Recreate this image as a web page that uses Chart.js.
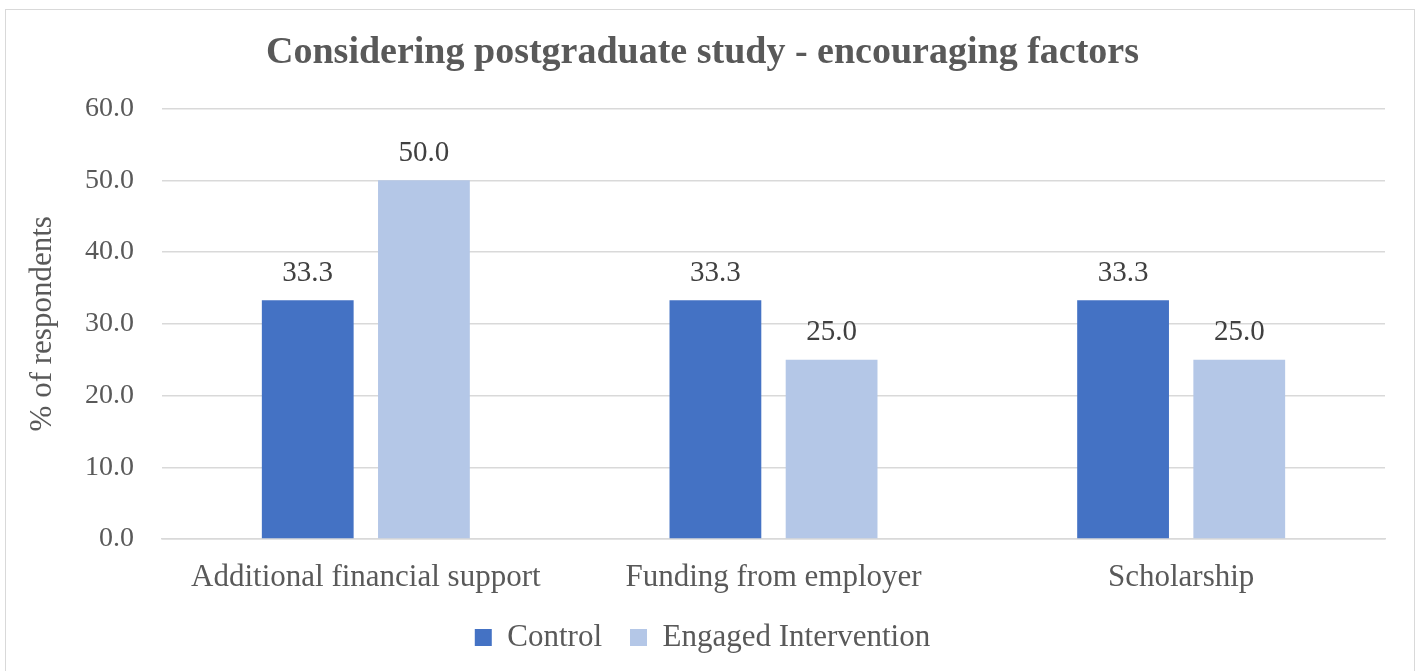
<!DOCTYPE html>
<html>
<head>
<meta charset="utf-8">
<script src="https://cdn.jsdelivr.net/npm/chart.js@4"></script>
<style>
  body { margin: 0; background: #fff; }
  #wrap { position: relative; width: 1417px; height: 671px; }
  #frame { position: absolute; left: 5px; top: 9px; width: 1410px; height: 670px; border: 1.5px solid #d9d9d9; box-sizing: border-box; }
  canvas { position: absolute; left: 0; top: 0; }
</style>
</head>
<body>
<div id="wrap">
  <div id="frame"></div>
  <canvas id="chart" width="1417" height="671"></canvas>
</div>
<script>
const categories = ["Additional financial support", "Funding from employer", "Scholarship"];
const controlValues = [33.3, 33.3, 33.3];
const engagedValues = [50.0, 25.0, 25.0];
const seriesNames = ["Control", "Engaged Intervention"];

const fontFamily = "'Liberation Serif', 'DejaVu Serif', serif";
const textColor = "#595959";

// draws the value above each bar
const valueLabels = {
    id: "valueLabels",
    afterDatasetsDraw(chart) {
        const ctx = chart.ctx;
        ctx.save();
        ctx.font = "29px " + fontFamily;
        ctx.fillStyle = "#404040";
        ctx.textAlign = "center";
        ctx.textBaseline = "middle";
        chart.data.datasets.forEach((ds, i) => {
            chart.getDatasetMeta(i).data.forEach((bar, j) => {
                ctx.fillText(ds.data[j].toFixed(1), bar.x, bar.y - 27);
            });
        });
        ctx.restore();
    }
};

new Chart(document.getElementById("chart").getContext("2d"), {
    type: "bar",
    data: {
        labels: categories,
        datasets: [{
            label: seriesNames[0],
            data: controlValues,
            backgroundColor: "#4472C4",
            categoryPercentage: 0.57,
            barPercentage: 0.79
        }, {
            label: seriesNames[1],
            data: engagedValues,
            backgroundColor: "#B4C7E7",
            categoryPercentage: 0.57,
            barPercentage: 0.79
        }]
    },
    options: {
        responsive: false,
        animation: false,
        layout: {
            padding: { left: 20, right: 32, top: 10, bottom: 8 }
        },
        scales: {
            y: {
                min: 0,
                max: 60,
                afterFit: (scale) => { scale.width = 142; },
                ticks: {
                    stepSize: 10,
                    color: textColor,
                    font: { family: fontFamily, size: 28 },
                    padding: 28,
                    callback: (v) => v.toFixed(1)
                },
                grid: { color: "#d9d9d9", lineWidth: 1.5, drawTicks: false },
                border: { display: false },
                title: {
                    display: true,
                    text: "% of respondents",
                    color: textColor,
                    font: { family: fontFamily, size: 31 },
                    padding: { top: 4, bottom: 0 }
                }
            },
            x: {
                afterFit: (scale) => { scale.height = 55; },
                ticks: {
                    color: textColor,
                    font: { family: fontFamily, size: 31 },
                    padding: 20
                },
                grid: { display: false, drawTicks: false },
                border: { color: "#d9d9d9", width: 1.5 }
            }
        },
        plugins: {
            title: {
                display: true,
                text: "Considering postgraduate study - encouraging factors",
                color: textColor,
                font: { family: fontFamily, size: 38, weight: "bold" },
                padding: { top: 20, bottom: 33 }
            },
            legend: {
                position: "bottom",
                labels: {
                    color: textColor,
                    font: { family: fontFamily, size: 31 },
                    boxWidth: 17,
                    boxHeight: 17,
                    padding: 28
                }
            },
            tooltip: { enabled: false }
        }
    },
    plugins: [valueLabels]
});
</script>
</body>
</html>
